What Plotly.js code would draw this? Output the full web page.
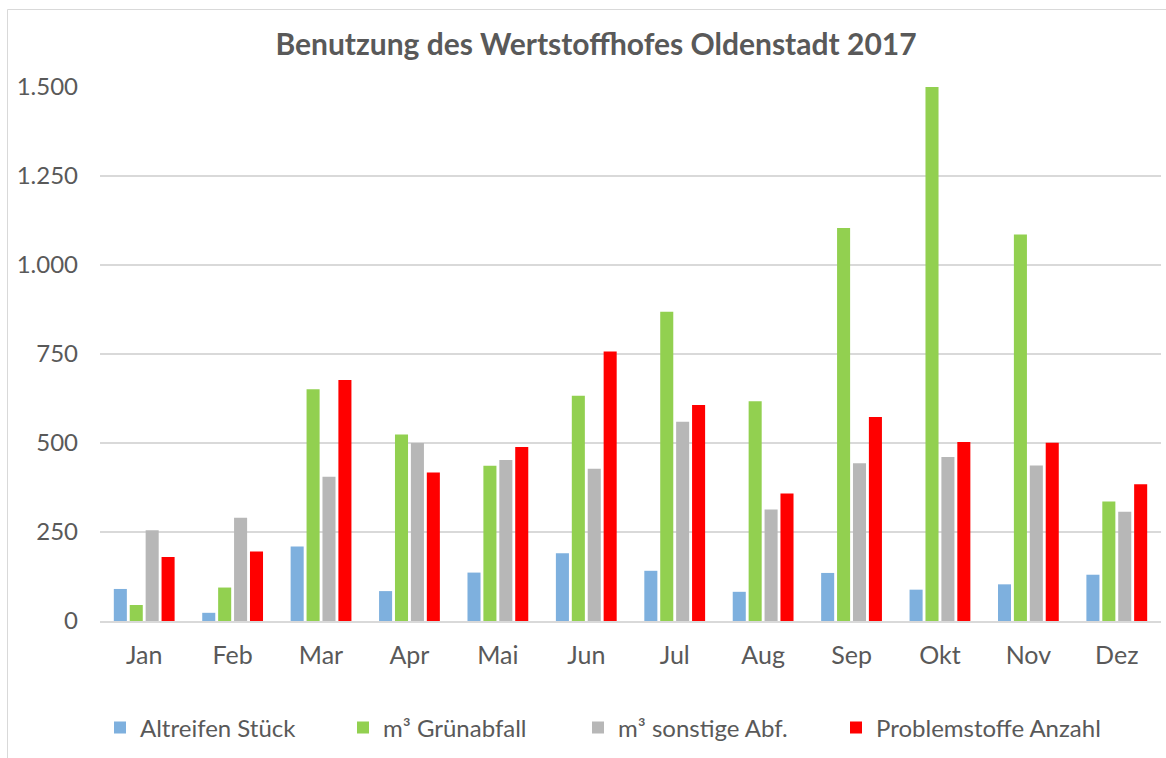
<!DOCTYPE html>
<html>
<head>
<meta charset="utf-8">
<script src="https://cdn.plot.ly/plotly-3.0.1.min.js"></script>
<style>
html,body{margin:0;padding:0;background:#fff;}
#chart{width:1166px;height:758px;}
</style>
</head>
<body>
<div id="chart"></div>
<script>
const months = ["Jan","Feb","Mar","Apr","Mai","Jun","Jul","Aug","Sep","Okt","Nov","Dez"];
const seriesNames = ["Altreifen Stück","m³ Grünabfall","m³ sonstige Abf.","Problemstoffe Anzahl"];
const altreifen   = [90, 23, 209, 84, 136, 190, 141, 82, 135, 88, 103, 130];
const gruenabfall = [45, 94, 651, 524, 436, 633, 869, 617, 1104, 1500, 1086, 336];
const sonstige    = [255, 290, 405, 500, 452, 428, 560, 313, 443, 461, 437, 307];
const problem     = [180, 195, 677, 417, 489, 757, 607, 358, 573, 503, 501, 384];
const colors = ["#7eb0de","#92d050","#b7b7b7","#ff0000"];
const yTicks = [0, 250, 500, 750, 1000, 1250, 1500];

const W = 1166, H = 758;
const L = 100, R = 5, T = 87, B = 137;
const pw = W - L - R, ph = H - T - B;
const px = v => (v - L) / pw;
const py = v => (H - B - v) / ph;
const FONT = "Lato, 'Noto Sans', sans-serif";

// legend text start positions (pixels) in the reference
const legendTextX = [140, 383, 618, 876];
const legendKeys = ["legend", "legend2", "legend3", "legend4"];

const allValues = [altreifen, gruenabfall, sonstige, problem];
const traces = allValues.map((vals, i) => ({
  type: "bar",
  name: seriesNames[i],
  x: months,
  y: vals,
  legend: legendKeys[i],
  marker: {color: colors[i], line: {width: 0}},
  hoverinfo: "x+y+name"
}));

const layout = {
  width: W, height: H,
  margin: {l: L, r: R, t: T, b: B, pad: 0},
  paper_bgcolor: "#ffffff",
  plot_bgcolor: "#ffffff",
  separators: ",.",
  font: {family: FONT, color: "#595959", size: 24},
  title: {
    text: "<b>Benutzung des Wertstoffhofes Oldenstadt 2017</b>",
    font: {size: 30, color: "#595959", family: FONT},
    x: 596 / W, xanchor: "center", xref: "container",
    y: 1 - 44 / H, yanchor: "middle", yref: "container"
  },
  barmode: "group",
  bargap: 0.28,
  bargroupgap: 0.18,
  xaxis: {
    type: "category",
    tickfont: {size: 25, color: "#595959", family: FONT},
    showline: true, linecolor: "#d9d9d9", linewidth: 2,
    ticks: "", ticklen: 0, ticklabelstandoff: 11,
    showgrid: false, zeroline: false,
    fixedrange: true
  },
  yaxis: {
    range: [0, 1500],
    tickvals: yTicks,
    tickformat: ",d",
    tickfont: {size: 24, color: "#595959", family: FONT},
    showgrid: true, gridcolor: "#d9d9d9", gridwidth: 1.5,
    zeroline: false, showline: false,
    ticks: "", ticklabelstandoff: 21,
    fixedrange: true
  },
  shapes: [{
    type: "rect", xref: "paper", yref: "paper",
    x0: px(7.5), x1: px(1190), y0: py(790), y1: py(9.5),
    line: {color: "#d9d9d9", width: 1}, fillcolor: "rgba(0,0,0,0)", layer: "below"
  }],
  showlegend: true
};

legendKeys.forEach((k, i) => {
  layout[k] = {
    orientation: "h",
    x: px(legendTextX[i] - 40), xanchor: "left",
    y: py(728), yanchor: "middle",
    font: {size: 24, color: "#595959", family: FONT},
    itemwidth: 30,
    bgcolor: "rgba(0,0,0,0)"
  };
});

Plotly.newPlot("chart", traces, layout, {displayModeBar: false, staticPlot: true});
</script>
</body>
</html>
